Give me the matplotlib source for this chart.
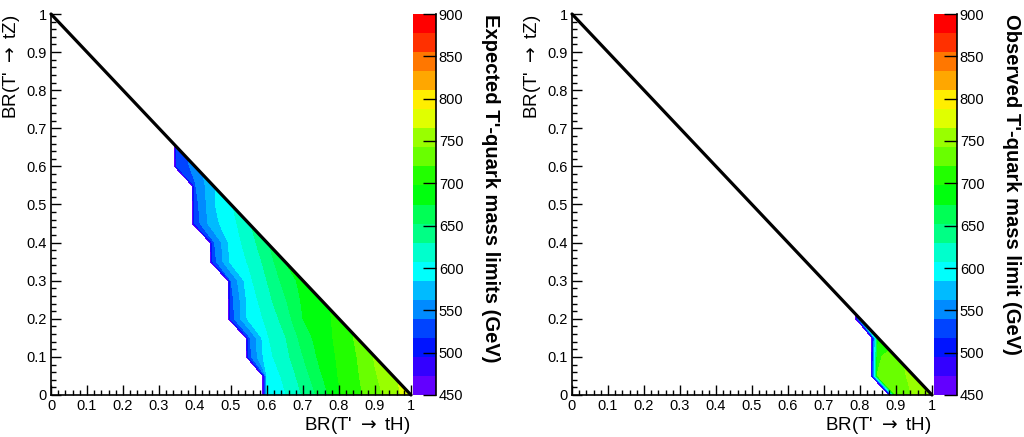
import numpy as np
import matplotlib.pyplot as plt
from matplotlib.ticker import MultipleLocator, FuncFormatter

plt.rcParams['font.family'] = ['Liberation Sans', 'DejaVu Sans']
plt.rcParams['mathtext.fontset'] = 'dejavusans'

# scan grid in BR(T'->tH) and BR(T'->tZ)
step = 0.05
br_grid = np.round(np.arange(0, 1 + step / 2, step), 2)

# mass limits (GeV), one row per BR(tZ) = 0.00, 0.05, ...
# each row starts at BR(tH) = *_first_th[row]; points left of it have no limit
exp_first_th = [0.60, 0.60, 0.55, 0.55, 0.50, 0.50, 0.50, 0.45, 0.45, 0.40, 0.40, 0.40, 0.35, 0.35]
exp_rows = [
    [585, 606, 632, 661, 695, 714, 733, 756, 778],
    [590, 613, 641, 673, 699, 717, 740, 760],
    [530, 600, 622, 652, 682, 701, 720, 745],
    [535, 605, 628, 662, 687, 703, 724],
    [528, 592, 612, 640, 675, 690, 703],
    [531, 594, 622, 650, 679, 692],
    [540, 602, 630, 661, 683],
    [528, 590, 610, 638, 675],
    [535, 593, 618, 649],
    [525, 578, 598, 627],
    [530, 582, 605],
    [538, 581],
    [522, 548],
    [528],
]

obs_first_th = [0.90, 0.85, 0.85, 0.85, 0.80]
obs_rows = [
    [728, 745, 755],
    [722, 735, 748],
    [715, 738],
    [690],
    [600],
]

levels = np.arange(450, 900 + 1, 22.5)
band_colors = ['#6300FF', '#3300FF', '#0014FF', '#0044FF', '#008BFF', '#00BBFF', '#00FFFC',
               '#00FFCC', '#00FF85', '#00FF55', '#00FF0E', '#22FF00', '#69FF00', '#99FF00',
               '#E0FF00', '#FFEE00', '#FFA700', '#FF7700', '#FF3000', '#FF0000']
cbar_ticks = [450, 500, 550, 600, 650, 700, 750, 800, 850, 900]
cbar_titles = ["Expected T'-quark mass limits (GeV)", "Observed T'-quark mass limit (GeV)"]


def build_grid(first_th, rows):
    z = np.full((len(br_grid), len(br_grid)), np.nan)
    for j, tz in enumerate(br_grid):
        for i, th in enumerate(br_grid):
            if th + tz <= 1 + 1e-9:
                z[j, i] = 0.0
    for j, (x0, vals) in enumerate(zip(first_th, rows)):
        i0 = int(round(x0 / step))
        z[j, i0:i0 + len(vals)] = vals
    return np.ma.masked_invalid(z)


W, H = 1024, 437
fig = plt.figure(figsize=(W / 100, H / 100), dpi=100)
fmt = FuncFormatter(lambda v, pos: f'{v:g}')

panels = [(exp_first_th, exp_rows), (obs_first_th, obs_rows)]
for p, (first_th, rows) in enumerate(panels):
    off = 521 * p
    ax = fig.add_axes([(51 + off) / W, 42 / H, 360 / W, 381 / H])
    cax = fig.add_axes([(413 + off) / W, 42 / H, 23 / W, 381 / H])

    z = build_grid(first_th, rows)
    cs = ax.contourf(br_grid, br_grid, z, levels=levels, colors=band_colors, corner_mask=True)

    # kinematic boundary BR(tH) + BR(tZ) = 1
    ax.plot(br_grid, 1 - br_grid, color='black', lw=2.3, clip_on=False, solid_capstyle='round')

    ax.set_xlim(0, 1)
    ax.set_ylim(0, 1)
    for side in ['top', 'right']:
        ax.spines[side].set_visible(False)
    for side in ['left', 'bottom']:
        ax.spines[side].set_linewidth(1.2)
    ax.xaxis.set_major_locator(MultipleLocator(0.1))
    ax.xaxis.set_minor_locator(MultipleLocator(0.02))
    ax.yaxis.set_major_locator(MultipleLocator(0.1))
    ax.yaxis.set_minor_locator(MultipleLocator(0.02))
    ax.xaxis.set_major_formatter(fmt)
    ax.yaxis.set_major_formatter(fmt)
    ax.tick_params(which='both', direction='in', top=False, right=False, width=1, labelsize=10.5)
    ax.tick_params(which='major', length=7.5, pad=3)
    ax.tick_params(which='minor', length=3.8)
    ax.set_xlabel(r"BR(T' $\rightarrow$ tH)", fontsize=13.5, loc='right', labelpad=1)
    ax.set_ylabel(r"BR(T' $\rightarrow$ tZ)", fontsize=13.5, loc='top', labelpad=3)

    cb = fig.colorbar(cs, cax=cax, ticks=cbar_ticks)
    cb.outline.set_visible(False)
    cax.plot([1, 1], [0, 1], transform=cax.transAxes, color='black', lw=1.2, clip_on=False)
    cax.tick_params(direction='in', length=9.5, width=1, labelsize=10.5, pad=2)
    cax.minorticks_off()

    fig.text((490 + off) / W, (H - 14) / H, cbar_titles[p], rotation=270,
             ha='center', va='top', fontsize=14.5, fontweight='bold')

fig.savefig('out.png', dpi=100)
